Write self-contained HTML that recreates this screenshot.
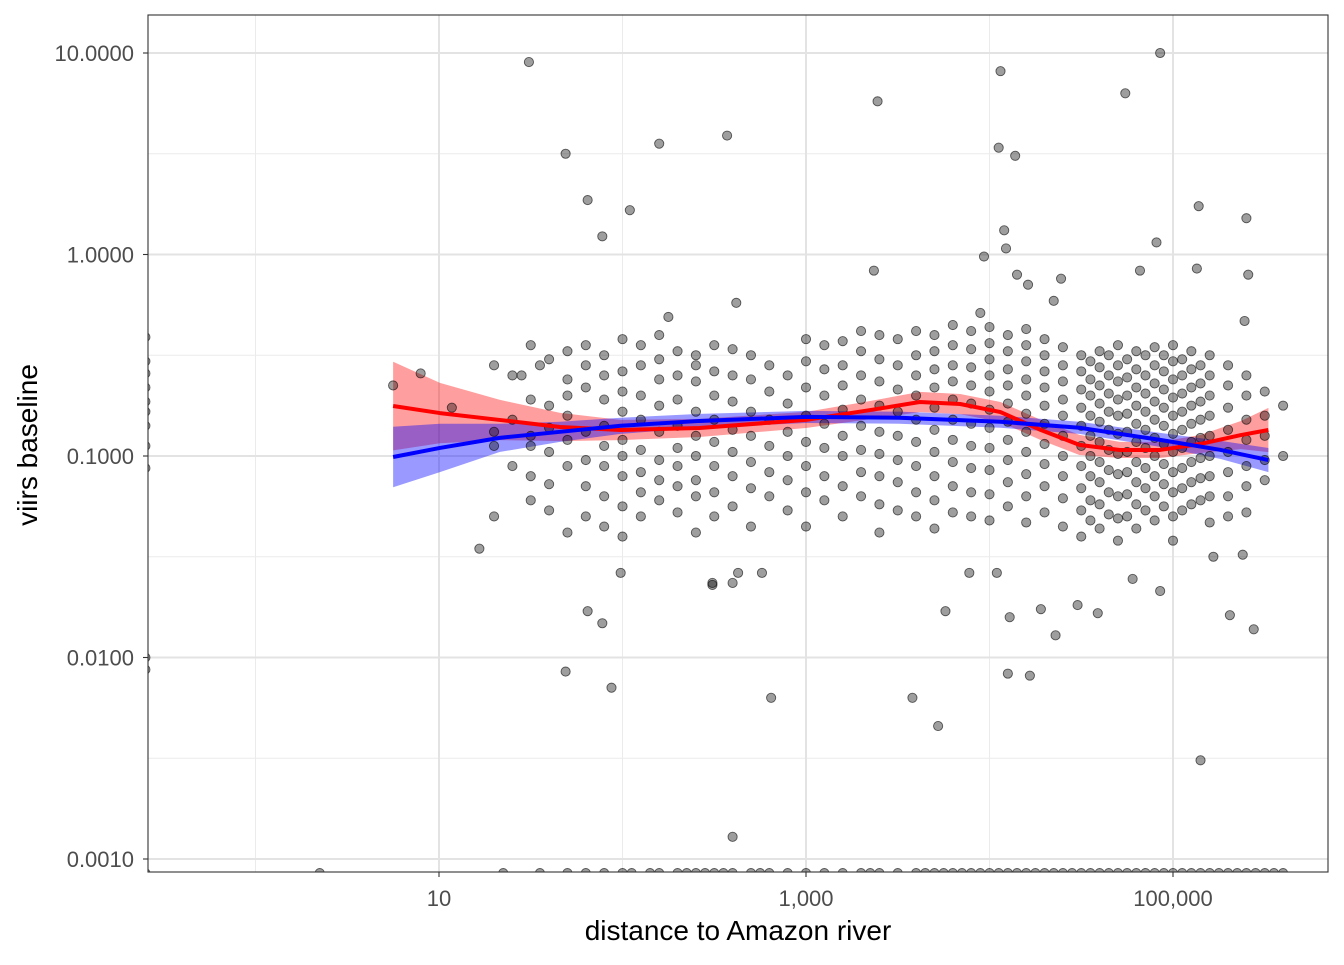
<!DOCTYPE html>
<html><head><meta charset="utf-8"><style>
body{margin:0;background:#fff}
svg text{font-family:"Liberation Sans",Arial,sans-serif}
</style></head><body>
<svg id="chart" width="1344" height="960" xmlns="http://www.w3.org/2000/svg">
<defs><clipPath id="pc"><rect x="148" y="15" width="1180" height="857"/></clipPath></defs>
<rect x="0" y="0" width="1344" height="960" fill="#fff"/>
<g id="grid"></g>
<g id="ribbons" clip-path="url(#pc)"></g>
<g id="pts" clip-path="url(#pc)"></g>
<g id="lines" clip-path="url(#pc)"></g>
<rect x="148" y="15" width="1180" height="857" fill="none" stroke="#333" stroke-width="1.1"/>
<g id="axes"></g>
<text x="738" y="940" text-anchor="middle" font-size="28" fill="#000">distance to Amazon river</text>
<text transform="translate(37,445) rotate(-90)" text-anchor="middle" font-size="28" fill="#000">viirs baseline</text>
</svg>
<script>
// data in log10 units
const xTickVals = [1, 3, 5];
const xTickLabels = ["10", "1,000", "100,000"];
const xMinorVals = [0, 2, 4];
const yTickVals = [1, 0, -1, -2, -3];
const yTickLabels = ["10.0000", "1.0000", "0.1000", "0.0100", "0.0010"];
const yMinorVals = [0.5, -0.5, -1.5, -2.5];

const outX = [1.49,1.69,1.81,1.89,2.04,2.20,2.57,3.39,4.06,4.05,4.14,4.93,4.74,5.14,5.40,4.08,4.09,3.97,4.91,3.37,4.39,5.41,5.13,4.82,4.15,4.21,2.62,4.35,2.25,5.39,3.95,
 1.22,1.81,1.89,1.69,1.94,2.81,2.60,3.58,3.72,3.76,4.11,4.10,4.22,5.15,4.36,4.28,4.48,4.59,4.93,5.31,5.44,5.38,5.22,4.78,2.49,2.60,2.76,2.63,2.49,1.99,3.89,4.04,
 -0.6,-0.6,-0.6,-0.6,-0.6,-0.6,-0.6,-0.6,-0.6,-0.6,-0.6,0.75,0.9,1.07,1.45,1.5,1.55];
const outY = [0.955,0.50,0.27,0.09,0.22,0.55,0.59,0.76,0.91,0.53,0.49,1.0,0.80,0.24,0.18,0.12,0.03,-0.01,0.06,-0.08,-0.12,-0.10,-0.07,-0.08,-0.10,-0.15,-0.24,-0.23,-0.31,-0.33,-0.29,
 -1.46,-1.77,-1.83,-2.07,-2.15,-2.20,-2.89,-2.20,-2.34,-1.77,-1.80,-2.08,-2.09,-2.51,-1.89,-1.76,-1.74,-1.78,-1.67,-1.79,-1.86,-1.49,-1.50,-1.61,-1.64,-1.63,-1.58,-1.58,-1.63,-1.58,-1.58,-1.58,
 -0.41,-0.53,-0.59,-0.66,-0.73,-0.78,-0.85,-0.95,-1.06,-2.0,-2.06,-0.65,-0.59,-0.76,-0.6,-0.95,-0.55];

const colX = [1.3,1.4,1.5,1.6,1.7,1.8,1.9,2.0,2.1,2.2,2.3,2.4,2.5,2.6,2.7,2.8,2.9,3.0,3.1,3.2,3.3,3.4,3.5,3.6,3.7,3.8,3.9,4.0,4.1,4.2,4.3,4.4,4.5,4.55,4.6,4.65,4.7,4.75,4.8,4.85,4.9,4.95,5.0,5.05,5.1,5.15,5.2,5.3,5.4,5.5,5.6];
const colY = [
[-0.55,-0.88,-1.3,-0.95],[-0.82,-1.05,-0.6],[-0.72,-0.45,-0.9,-1.1,-1.22],[-0.52,-0.75,-0.98,-1.14,-1.27,-0.86],
[-0.48,-0.62,-0.8,-1.05,-0.92,-1.38,-0.7],[-0.45,-0.66,-0.88,-1.02,-1.15,-0.55,-1.3],[-0.5,-0.6,-0.72,-0.95,-1.2,-1.35,-0.85,-1.05],
[-0.42,-0.58,-0.68,-0.78,-0.92,-1.0,-1.1,-1.25,-1.4],[-0.45,-0.55,-0.7,-0.82,-0.97,-1.08,-1.18,-1.3],[-0.52,-0.62,-0.75,-0.88,-1.02,-1.12,-1.22,-0.4],
[-0.48,-0.6,-0.72,-0.85,-0.96,-1.05,-1.15,-1.28],[-0.5,-0.63,-0.78,-0.9,-1.0,-1.12,-1.2,-1.38,-0.55],[-0.45,-0.58,-0.7,-0.82,-0.93,-1.05,-1.18,-1.3],
[-0.47,-0.6,-0.73,-0.87,-0.98,-1.1,-1.25],[-0.5,-0.62,-0.78,-0.9,-1.03,-1.16,-1.35],[-0.55,-0.68,-0.82,-0.95,-1.08,-1.2],[-0.6,-0.74,-0.88,-1.0,-1.12,-1.27],
[-0.42,-0.53,-0.66,-0.8,-0.93,-1.05,-1.18,-1.35],[-0.45,-0.57,-0.7,-0.84,-0.96,-1.1,-1.22],[-0.43,-0.55,-0.65,-0.77,-0.9,-1.0,-1.15,-1.3],
[-0.38,-0.48,-0.6,-0.72,-0.85,-0.97,-1.08,-1.2],[-0.4,-0.52,-0.63,-0.75,-0.88,-0.99,-1.1,-1.24,-1.38],[-0.42,-0.55,-0.67,-0.78,-0.9,-1.02,-1.13,-1.27],
[-0.38,-0.5,-0.6,-0.7,-0.82,-0.93,-1.05,-1.18,-1.3],[-0.4,-0.48,-0.57,-0.66,-0.76,-0.87,-0.98,-1.1,-1.22,-1.36],
[-0.35,-0.45,-0.55,-0.63,-0.72,-0.82,-0.92,-1.03,-1.15,-1.28],[-0.38,-0.47,-0.56,-0.65,-0.74,-0.84,-0.95,-1.06,-1.18,-1.3],
[-0.36,-0.44,-0.52,-0.6,-0.68,-0.77,-0.86,-0.96,-1.07,-1.19,-1.32],[-0.4,-0.48,-0.57,-0.65,-0.74,-0.83,-0.92,-1.02,-1.13,-1.25],
[-0.37,-0.45,-0.53,-0.62,-0.7,-0.79,-0.88,-0.98,-1.09,-1.2,-1.33],[-0.42,-0.5,-0.58,-0.66,-0.75,-0.84,-0.94,-1.04,-1.15,-1.28],
[-0.46,-0.55,-0.63,-0.72,-0.8,-0.9,-1.0,-1.1,-1.21,-1.35],[-0.5,-0.58,-0.67,-0.76,-0.85,-0.95,-1.05,-1.16,-1.27,-1.4],
[-0.53,-0.62,-0.7,-0.8,-0.9,-1.0,-1.1,-1.22,-1.32],[-0.48,-0.56,-0.65,-0.74,-0.83,-0.93,-1.03,-1.13,-1.24,-1.36],
[-0.5,-0.6,-0.69,-0.78,-0.87,-0.97,-1.07,-1.18,-1.29],[-0.45,-0.55,-0.63,-0.72,-0.8,-0.89,-0.99,-1.09,-1.2,-1.31,-1.42],
[-0.52,-0.61,-0.7,-0.79,-0.88,-0.98,-1.08,-1.19,-1.3],[-0.48,-0.57,-0.66,-0.75,-0.84,-0.93,-1.03,-1.13,-1.24,-1.36],
[-0.5,-0.6,-0.69,-0.78,-0.87,-0.96,-1.06,-1.16,-1.27],[-0.46,-0.55,-0.64,-0.73,-0.82,-0.91,-1.0,-1.1,-1.2,-1.32],
[-0.5,-0.58,-0.67,-0.76,-0.85,-0.94,-1.04,-1.14,-1.25],[-0.45,-0.53,-0.62,-0.71,-0.8,-0.89,-0.98,-1.08,-1.18,-1.3,-1.42],
[-0.52,-0.6,-0.69,-0.78,-0.87,-0.96,-1.06,-1.16,-1.27],[-0.48,-0.57,-0.66,-0.75,-0.84,-0.93,-1.03,-1.13,-1.24],
[-0.55,-0.64,-0.73,-0.82,-0.91,-1.01,-1.11,-1.22],[-0.5,-0.6,-0.7,-0.8,-0.9,-1.0,-1.1,-1.2,-1.33],
[-0.55,-0.65,-0.76,-0.87,-0.98,-1.08,-1.2,-1.3],[-0.6,-0.7,-0.82,-0.92,-1.05,-1.15,-1.28],[-0.68,-0.8,-0.9,-1.02,-1.12],[-0.75,-1.0]];

const zeroX = [-0.6,0.35,1.35,1.55,1.7,1.8,1.9,2.0,2.05,2.15,2.2,2.3,2.35,2.4,2.45,2.5,2.55,2.6,2.7,2.75,2.8,2.9,3.0,3.1,3.2,3.3,3.35,3.4,3.5,3.6,3.65,3.7,3.75,3.8,3.85,3.9,3.95,4.0,4.05,4.1,4.15,4.2,4.25,4.3,4.35,4.4,4.45,4.5,4.55,4.6,4.65,4.7,4.75,4.8,4.85,4.9,4.95,5.0,5.05,5.1,5.15,5.2,5.25,5.3,5.35,5.4,5.45,5.5,5.55,5.6];
const zeroY = -3.07;

const redX = [0.75,1.005,1.33,1.66,1.99,2.42,3.0,3.35,3.62,3.84,4.06,4.28,4.49,4.71,4.93,5.15,5.37,5.52];
const redY = [-0.752,-0.787,-0.821,-0.856,-0.871,-0.861,-0.821,-0.772,-0.732,-0.742,-0.782,-0.871,-0.945,-0.970,-0.970,-0.940,-0.896,-0.871];
const redSE = [0.22,0.15,0.10,0.07,0.05,0.045,0.04,0.045,0.05,0.05,0.05,0.05,0.05,0.04,0.04,0.045,0.07,0.11];
const blueX = [0.75,1.005,1.33,1.66,1.99,2.42,3.0,3.51,4.06,4.49,4.93,5.26,5.52];
const blueY = [-1.005,-0.96,-0.91,-0.88,-0.85,-0.826,-0.806,-0.81,-0.83,-0.86,-0.92,-0.97,-1.02];
const blueSE = [0.15,0.12,0.07,0.05,0.04,0.035,0.03,0.03,0.03,0.03,0.035,0.045,0.06];

const NS="http://www.w3.org/2000/svg";
const sx = v => 439 + (v - 1) * 183.5;
const sy = v => 53 + (1 - v) * 201.5;
function mk(tag, attrs, parent){const e=document.createElementNS(NS,tag);for(const k in attrs)e.setAttribute(k,attrs[k]);parent.appendChild(e);return e;}
const grid=document.getElementById('grid'), axes=document.getElementById('axes');
mk('rect',{x:148,y:15,width:1180,height:857,fill:'#fff'},grid);
yMinorVals.forEach(v=>{const l=mk('line',{x1:148,x2:1328,y1:sy(v),y2:sy(v),stroke:'#ebebeb','stroke-width':1},grid);

});
xMinorVals.forEach(v=>{const l=mk('line',{x1:sx(v),x2:sx(v),y1:15,y2:872,stroke:'#ebebeb','stroke-width':1},grid);

});
yTickVals.forEach((v,i)=>{const l=mk('line',{x1:148,x2:1328,y1:sy(v),y2:sy(v),stroke:'#e3e3e3','stroke-width':2},grid);


mk('line',{x1:143,x2:148,y1:sy(v),y2:sy(v),stroke:'#333','stroke-width':1.1},axes);
const t=mk('text',{x:134,y:sy(v)+8,'text-anchor':'end','font-size':22,fill:'#4d4d4d'},axes);t.textContent=yTickLabels[i];

});
xTickVals.forEach((v,i)=>{const l=mk('line',{x1:sx(v),x2:sx(v),y1:15,y2:872,stroke:'#e3e3e3','stroke-width':2},grid);


mk('line',{x1:sx(v),x2:sx(v),y1:872,y2:877,stroke:'#333','stroke-width':1.1},axes);
const t=mk('text',{x:sx(v),y:906,'text-anchor':'middle','font-size':22,fill:'#4d4d4d'},axes);t.textContent=xTickLabels[i];

});

const pts=document.getElementById('pts');
function dot(x,y){const c=mk('circle',{cx:sx(x),cy:sy(y),r:4.6,fill:'rgba(0,0,0,0.38)',stroke:'rgba(0,0,0,0.6)','stroke-width':0.9},pts);

}
colX.forEach((x,i)=>colY[i].forEach(y=>dot(x,y)));
outX.forEach((x,i)=>dot(x,outY[i]));
zeroX.forEach(x=>dot(x,zeroY));

const rib=document.getElementById('ribbons'), lines=document.getElementById('lines');
function band(X,Y,S,fill,name){let d='M'+X.map((x,i)=>sx(x)+','+sy(Y[i]+S[i])).join(' L')+' L'+X.map((x,i)=>sx(x)+','+sy(Y[i]-S[i])).reverse().join(' L')+'Z';
const p=mk('path',{d:d,fill:fill},rib);

}
function line(X,Y,col,name){const p=mk('path',{d:'M'+X.map((x,i)=>sx(x)+','+sy(Y[i])).join(' L'),fill:'none',stroke:col,'stroke-width':4,'stroke-linejoin':'round'},lines);

}
band(redX,redY,redSE,'rgba(255,0,0,0.38)','red-confidence-band');
band(blueX,blueY,blueSE,'rgba(0,0,255,0.4)','blue-confidence-band');
line(redX,redY,'#ff0000','red-smooth-line');
line(blueX,blueY,'#0000ff','blue-smooth-line');
</script>
</body></html>
